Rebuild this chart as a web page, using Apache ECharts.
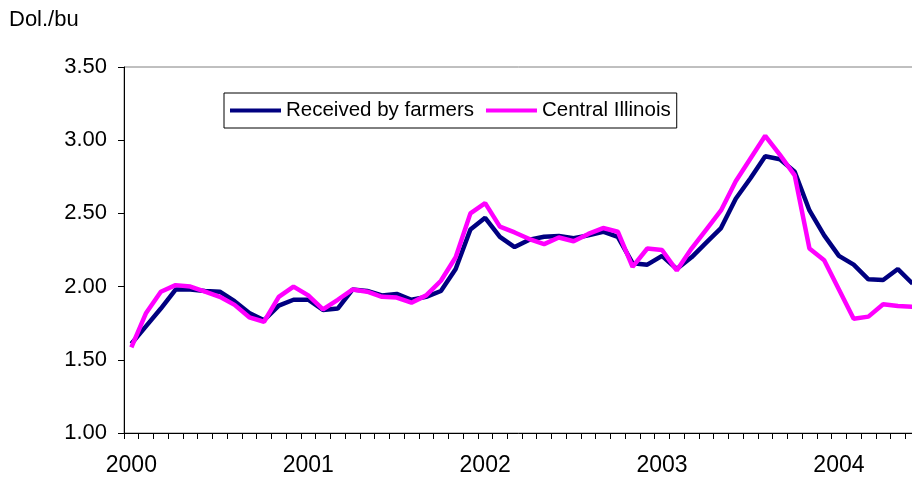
<!DOCTYPE html>
<html>
<head>
<meta charset="utf-8">
<script src="https://cdn.jsdelivr.net/npm/echarts@6/dist/echarts.min.js"></script>
<style>
  html, body { margin: 0; padding: 0; background: #fff; }
  #chart { width: 912px; height: 481px; }
</style>
</head>
<body>
<div id="chart"></div>
<script>
// monthly prices, Jan 2000 .. Jun 2004 (dollars per bushel)
const years = ["2000", "2001", "2002", "2003", "2004"];
const monthsShown = 54;

const receivedByFarmers = [
    1.61, 1.73, 1.85, 1.98, 1.98, 1.97, 1.965, 1.90, 1.82, 1.77, 1.87, 1.91,
    1.91, 1.84, 1.85, 1.98, 1.97, 1.94, 1.95, 1.91, 1.93, 1.97, 2.12, 2.39,
    2.47, 2.34, 2.27, 2.32, 2.34, 2.345, 2.33, 2.35, 2.375, 2.34, 2.16, 2.15,
    2.21, 2.12, 2.20, 2.30, 2.40, 2.60, 2.74, 2.89, 2.87, 2.785, 2.52, 2.35,
    2.21, 2.15, 2.05, 2.045, 2.12, 2.02
];

const centralIllinois = [
    1.585, 1.82, 1.965, 2.01, 2.00, 1.965, 1.93, 1.875, 1.79, 1.76, 1.93, 2.00,
    1.94, 1.845, 1.91, 1.98, 1.965, 1.93, 1.925, 1.89, 1.94, 2.04, 2.20, 2.50,
    2.57, 2.41, 2.37, 2.325, 2.29, 2.335, 2.31, 2.36, 2.40, 2.375, 2.135, 2.26,
    2.25, 2.11, 2.26, 2.39, 2.52, 2.72, 2.875, 3.03, 2.90, 2.76, 2.26, 2.18,
    1.98, 1.78, 1.795, 1.88, 1.867, 1.863
];

const categories = [];
for (let i = 0; i < monthsShown; i++) {
    categories.push(years[Math.floor(i / 12)] + "-" + String(i % 12 + 1).padStart(2, "0"));
}

const font = "'Liberation Sans', Arial, sans-serif";

const chart = echarts.init(document.getElementById("chart"), null, { renderer: "canvas" });

chart.setOption({
    animation: false,
    backgroundColor: "#ffffff",
    textStyle: { fontFamily: font },
    title: {
        text: "Dol./bu",
        left: 9,
        top: 9,
        padding: 0,
        textStyle: {
            fontFamily: font,
            fontSize: 22,
            fontWeight: "normal",
            color: "#000"
        }
    },
    legend: {
        left: 224,
        top: 93,
        orient: "horizontal",
        backgroundColor: "#ffffff",
        borderColor: "#000000",
        borderWidth: 1,
        padding: [7, 6, 7, 6],
        itemGap: 12,
        itemWidth: 51,
        itemHeight: 4,
        icon: "rect",
        textStyle: {
            fontFamily: font,
            fontSize: 20.5,
            color: "#000"
        },
        data: ["Received by farmers", "Central Illinois"]
    },
    grid: {
        left: 124,
        right: -8,
        top: 67,
        bottom: 48,
        outerBoundsMode: "none",
        containLabel: false,
        show: true,
        borderColor: "#808080",
        borderWidth: 1,
        backgroundColor: "transparent"
    },
    xAxis: {
        type: "category",
        data: categories,
        boundaryGap: true,
        axisLine: { lineStyle: { color: "#000", width: 1 } },
        axisTick: {
            show: true,
            interval: 0,
            length: 6,
            lineStyle: { color: "#000", width: 1 }
        },
        axisLabel: {
            interval: function (index) { return index % 12 === 0; },
            formatter: function (value) { return value.slice(0, 4); },
            margin: 21,
            fontFamily: font,
            fontSize: 23,
            color: "#000"
        },
        splitLine: { show: false }
    },
    yAxis: {
        type: "value",
        min: 1,
        max: 3.5,
        interval: 0.5,
        axisLine: { show: true, lineStyle: { color: "#000", width: 1 } },
        axisTick: { show: true, length: 6, lineStyle: { color: "#000" } },
        axisLabel: {
            formatter: value => value.toFixed(2),
            margin: 17,
            fontFamily: font,
            fontSize: 22,
            color: "#000"
        },
        splitLine: { show: false }
    },
    series: [
        {
            name: "Received by farmers",
            type: "line",
            data: receivedByFarmers,
            showSymbol: false,
            symbol: "none",
            color: "#000080",
            lineStyle: { width: 4.5, color: "#000080" },
            z: 2
        },
        {
            name: "Central Illinois",
            type: "line",
            data: centralIllinois,
            showSymbol: false,
            symbol: "none",
            color: "#ff00ff",
            lineStyle: { width: 4.5, color: "#ff00ff" },
            z: 3
        }
    ]
});
</script>
</body>
</html>
